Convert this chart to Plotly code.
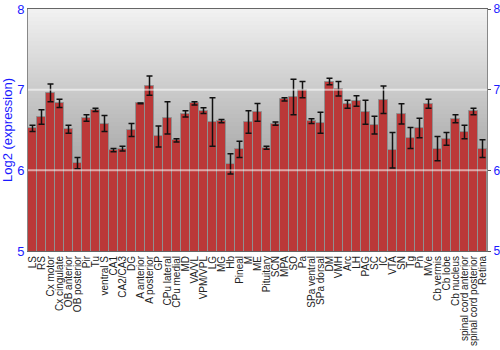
import plotly.graph_objects as go

regions = ["LS", "RS", "Cx motor", "Cx cingulate", "OB anterior", "OB posterior", "Pir", "Tu",
           "ventral S", "CA1", "CA2/CA3", "DG", "A anterior", "A posterior", "GP", "CPu lateral",
           "CPu medial", "MD", "VA/VL", "VPM/VPL", "LG", "MG", "Hb", "Pineal", "M", "ME",
           "Pituitary", "SCN", "MPA", "SO", "Pa", "SPa ventral", "SPa dorsal", "DM", "VMH", "Arc",
           "LH", "PAG", "SC", "IC", "VTA", "SN", "Tg", "Pn", "MVe", "Cb vermis", "Cb lobe",
           "Cb nucleus", "spinal cord anterior", "spinal cord posterior", "Retina"]

expr = [6.52, 6.66, 6.96, 6.83, 6.51, 6.09, 6.65, 6.75,
        6.58, 6.25, 6.27, 6.50, 6.83, 7.05, 6.42, 6.65,
        6.37, 6.70, 6.83, 6.74, 6.60, 6.61, 6.08, 6.26, 6.60, 6.72,
        6.28, 6.58, 6.88, 6.91, 7.00, 6.61, 6.59, 7.10, 7.01, 6.82,
        6.86, 6.72, 6.56, 6.875, 6.25, 6.70, 6.40, 6.525, 6.825, 6.27, 6.39,
        6.64, 6.475, 6.73, 6.27]

err = [0.04, 0.09, 0.11, 0.05, 0.05, 0.07, 0.04, 0.02,
       0.10, 0.02, 0.03, 0.08, 0.005, 0.12, 0.13, 0.20,
       0.02, 0.04, 0.02, 0.035, 0.30, 0.02, 0.125, 0.10, 0.14, 0.11,
       0.02, 0.02, 0.02, 0.22, 0.10, 0.03, 0.13, 0.04, 0.09, 0.05,
       0.065, 0.15, 0.11, 0.17, 0.22, 0.125, 0.13, 0.12, 0.055, 0.15, 0.08,
       0.05, 0.085, 0.04, 0.11]

y_ticks = [5, 6, 7, 8]
y_range = [5, 8]

FONT = "Liberation Sans, Arial, sans-serif"
BLUE = "#1a1aff"

fig = go.Figure()
fig.add_trace(go.Bar(
    x=regions, y=expr,
    error_y=dict(type="data", array=err, color="#111111", thickness=1.5, width=3),
    marker=dict(color="#bb3838", line=dict(color="#909090", width=1)),
    hoverinfo="skip",
))
fig.add_trace(go.Scatter(
    x=regions, y=expr, yaxis="y2", mode="lines",
    line=dict(width=0, color="rgba(0,0,0,0)"), hoverinfo="skip", showlegend=False,
))

# gradient background
shapes = []
N = 60
top, bot = 242, 125
for i in range(N):
    t = (i + 0.5) / N
    c = int(round(top + (bot - top) * t))
    shapes.append(dict(type="rect", xref="paper", yref="paper",
                       x0=0, x1=1, y0=max(0, 1 - (i + 1.6) / N), y1=1 - i / N,
                       fillcolor=f"rgb({c},{c},{c})", line=dict(width=0),
                       layer="below"))
for gv in y_ticks[1:-1]:
    shapes.append(dict(type="line", xref="paper", yref="y", x0=0, x1=1, y0=gv, y1=gv,
                       line=dict(color="rgba(255,255,255,0.55)", width=2), layer="above"))

fig.update_layout(
    width=500, height=350,
    margin=dict(l=28, r=13, t=9, b=99, autoexpand=False),
    paper_bgcolor="white",
    plot_bgcolor="rgba(0,0,0,0)",
    showlegend=False,
    bargap=0,
    shapes=shapes,
    font=dict(family=FONT),
    xaxis=dict(
        tickmode="array", tickvals=regions, ticktext=regions, automargin=False,
        tickangle=-90, tickfont=dict(size=10, color="#222222", family=FONT),
        showline=True, linecolor="#666666", linewidth=1, mirror=True,
        showgrid=False, ticks="", zeroline=False,
    ),
    yaxis=dict(
        range=y_range, tickvals=y_ticks, showgrid=False, zeroline=False, automargin=False,
        showline=True, linecolor="#888888", linewidth=1, ticks="",
        tickfont=dict(size=13, color=BLUE, family=FONT),
        title=dict(text="Log2 (expression)", font=dict(size=13, color=BLUE, family=FONT), standoff=2),
    ),
    yaxis2=dict(
        range=y_range, tickvals=y_ticks, overlaying="y", side="right", automargin=False,
        showgrid=False, zeroline=False, showline=True, linecolor="#888888", linewidth=1,
        ticks="outside", ticklen=3, tickcolor="#555555",
        tickfont=dict(size=12, color=BLUE, family=FONT),
    ),
)

fig.write_html("out.html")
